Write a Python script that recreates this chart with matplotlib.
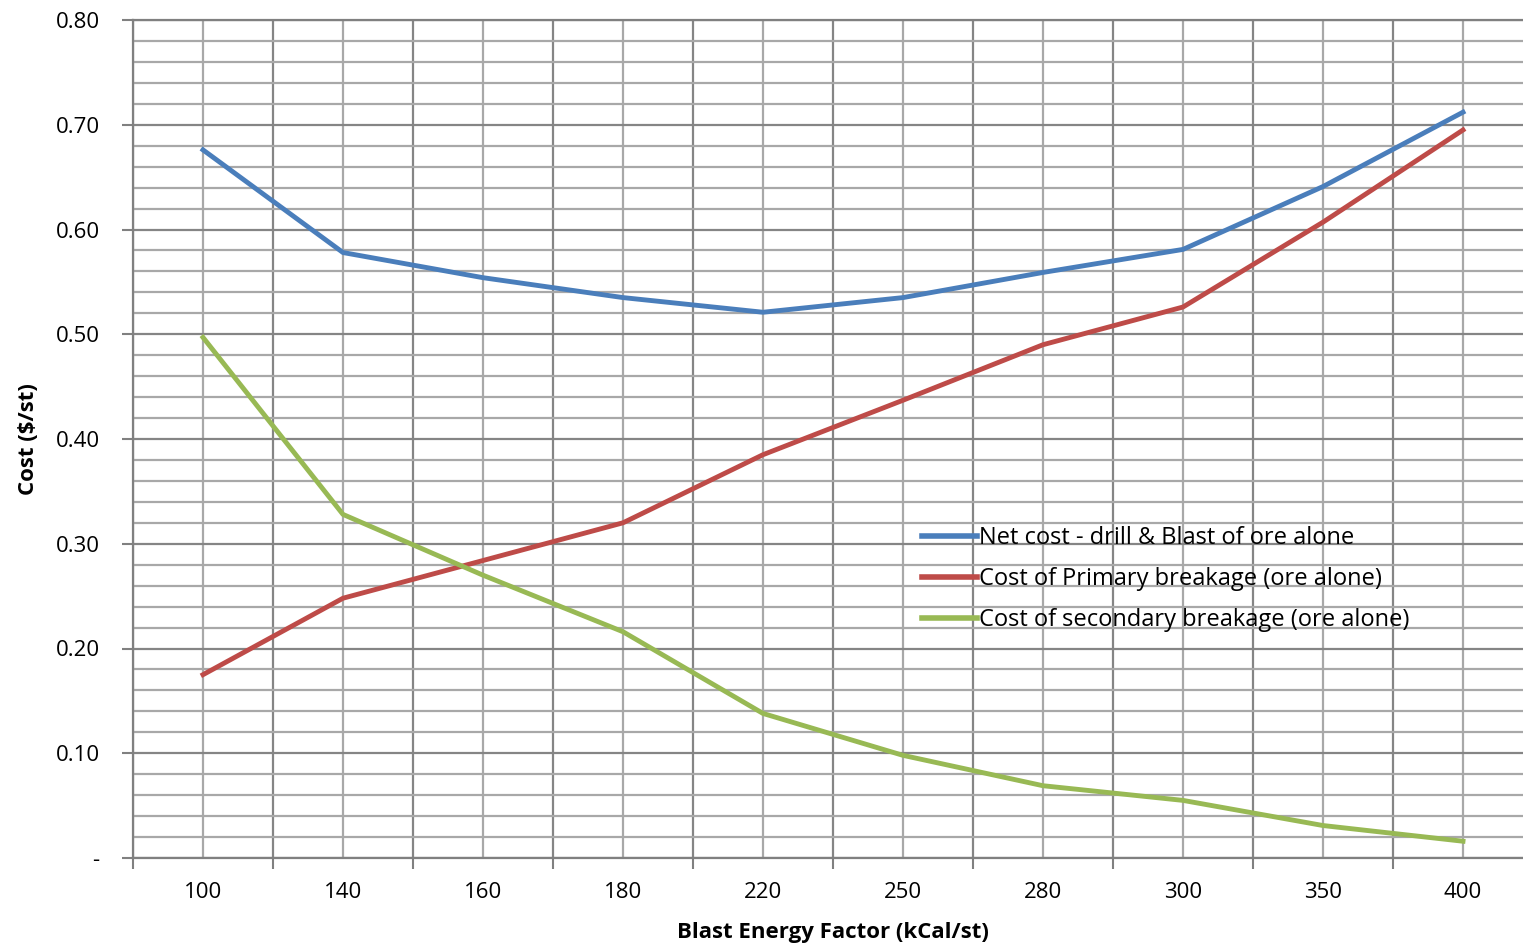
import matplotlib
matplotlib.use("Agg")
import matplotlib.pyplot as plt
from matplotlib.ticker import MultipleLocator, FixedLocator

plt.rcParams['font.family'] = ['Open Sans', 'DejaVu Sans']

# blast energy factor categories (kCal/st)
energy = ['100', '140', '160', '180', '220', '250', '280', '300', '350', '400']

# cost in $/st
net_cost = [0.676, 0.578, 0.554, 0.535, 0.521, 0.535, 0.559, 0.581, 0.641, 0.712]
primary = [0.175, 0.248, 0.284, 0.320, 0.385, 0.437, 0.490, 0.526, 0.607, 0.695]
secondary = [0.497, 0.328, 0.270, 0.216, 0.138, 0.098, 0.069, 0.055, 0.031, 0.016]

W, H = 1523, 951
fig = plt.figure(figsize=(W / 100, H / 100), dpi=100)
ax = fig.add_axes([133 / W, 1 - 858 / H, 1400 / W, 838 / H])

x = list(range(len(energy)))
ax.plot(x, net_cost, color='#4a7ebb', lw=3.5, label='Net cost - drill & Blast of ore alone', zorder=3)
ax.plot(x, primary, color='#be4b48', lw=3.5, label='Cost of Primary breakage (ore alone)', zorder=3)
ax.plot(x, secondary, color='#98b954', lw=3.5, label='Cost of secondary breakage (ore alone)', zorder=3)

ax.set_xlim(-0.5, len(energy) - 0.5)
ax.set_ylim(0, 0.80)

# category boundaries get the ticks, labels sit at the centres
ax.xaxis.set_major_locator(FixedLocator([i - 0.5 for i in range(len(energy) + 1)]))
ax.xaxis.set_minor_locator(FixedLocator(x))
ax.set_xticklabels([], minor=False)
ax.set_xticklabels(energy, minor=True)
ax.tick_params(axis='x', which='major', length=8, width=1.5, color='#808080', direction='out')
ax.tick_params(axis='x', which='minor', length=0, pad=17, labelsize=16)

ax.yaxis.set_major_locator(MultipleLocator(0.1))
ax.yaxis.set_minor_locator(MultipleLocator(0.02))
ax.set_yticks([i / 10 for i in range(9)])
ax.set_yticklabels(['-'] + ['%.2f' % (i / 10) for i in range(1, 9)])
ax.tick_params(axis='y', which='major', length=8, width=1.5, color='#808080', direction='out',
               pad=16, labelsize=16)
ax.tick_params(axis='y', which='minor', length=0)

ax.grid(True, which='major', color='#858585', lw=1.6, zorder=0)
ax.grid(True, which='minor', color='#a8a8a8', lw=1.6, zorder=0)
ax.set_axisbelow(True)

for side in ['left', 'bottom', 'top', 'right']:
    ax.spines[side].set_color('#808080')
    ax.spines[side].set_linewidth(1.6)

ax.set_ylabel('Cost ($/st)', fontsize=16, fontweight='bold', labelpad=12)
ax.set_xlabel('Blast Energy Factor (kCal/st)', fontsize=16, fontweight='bold', labelpad=14)

leg = ax.legend(loc='upper left', bbox_to_anchor=(0.557, 0.407), frameon=False,
                fontsize=17, handlelength=2.3, handletextpad=0.1, labelspacing=0.72,
                borderaxespad=0)
for h in leg.legend_handles:
    h.set_linewidth(4)

fig.savefig('out.png', dpi=100)
